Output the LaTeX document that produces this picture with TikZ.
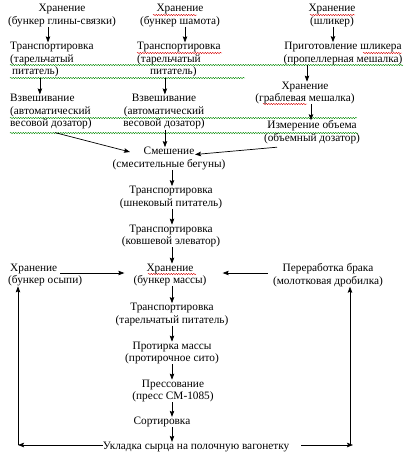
\documentclass[tikz,border=0pt]{standalone}
\usepackage{fontspec}
\setmainfont{Liberation Serif}
\usetikzlibrary{arrows.meta,calc,decorations.pathmorphing}
\begin{document}
\begin{tikzpicture}[x=1pt,y=1pt,
  lbl/.style={inner sep=0pt, align=center, font=\fontsize{11.3}{12.5}\selectfont},
  lbll/.style={lbl, align=left},
  arr/.style={-{Stealth[length=6pt,width=4.5pt,inset=1pt]}, line width=0.7pt},
  grn/.style={draw=green!55!black, line width=0.4pt, decorate, decoration={snake, amplitude=0.7pt, segment length=2.5pt}},
  rd/.style={grn, draw=red!85!black}]
\useasboundingbox (0,0) rectangle (407,-458);
\newcommand\vArrow[3]{\draw[arr] ([xshift=#3]#1.south) -- ([xshift=#3]#1.south |- #2.north);}
% spell-check marks
\draw[grn] (10,-65) -- (403,-65);
\draw[grn] (10,-78) -- (245,-78);
\draw[grn] (10,-118) -- (357,-118);
\draw[grn] (10,-133) -- (358,-133);
\draw[rd] (153,-15) -- (197,-15);
\draw[rd] (137,-53) -- (222,-53);
\draw[rd] (310,-15) -- (355,-15);
\draw[rd] (363,-53) -- (402,-53);
\draw[rd] (263,-104) -- (307,-104);
\draw[rd] (148,-274) -- (196,-274);
% nodes
\node[lbl] (A1) at (62,-15.5) {Хранение\\(бункер глины-связки)};
\node[lbll, anchor=west] (A2) at (10,-60) {Транспортировка\\(тарельчатый\\\hspace{2pt}питатель)};
\node[lbll, anchor=west] (A3) at (10,-112) {Взвешивание\\(автоматический\\весовой дозатор)};
\node[lbl] (B1) at (180,-15.5) {Хранение\\(бункер шамота)};
\node[lbll, anchor=west] (B2) at (137,-60) {Транспортировка\\(тарельчатый\\\hspace{13pt}питатель)};
\node[lbl] (B3) at (164,-112) {Взвешивание\\(автоматический\\весовой дозатор)};
\node[lbl] (C1) at (332,-15.5) {Хранение\\(шликер)};
\node[lbl] (C2) at (343,-53.5) {Приготовление шликера\\(пропеллерная мешалка)};
\node[lbl] (C3) at (305,-93) {Хранение\\(граблевая мешалка)};
\node[lbl] (C4) at (312,-132) {Измерение объема\\(объемный дозатор)};
\node[lbl] (M) at (169,-158.5) {Смешение\\(смесительные бегуны)};
\node[lbl] (T1) at (171,-197.5) {Транспортировка\\(шнековый питатель)};
\node[lbl] (T2) at (171,-236) {Транспортировка\\(ковшевой элеватор)};
\node[lbl] (S) at (170,-275) {Хранение\\(бункер массы)};
\node[lbll, anchor=west] (L) at (8,-275) {\hspace{2pt}Хранение\\(бункер осыпи)};
\node[lbl] (R) at (328,-275) {Переработка брака\\(молотковая дробилка)};
\node[lbl] (T3) at (172,-314.5) {Транспортировка\\(тарельчатый питатель)};
\node[lbl] (P) at (172,-353) {Протирка массы\\(протирочное сито)};
\node[lbl] (Pr) at (173,-391) {Прессование\\(пресс СМ-1085)};
\node[lbl] (So) at (162,-422) {Сортировка};
\node[lbl] (U) at (196,-447) {Укладка сырца на полочную вагонетку};
\coordinate (bl) at (18,-445);
\coordinate (br) at (353,-445);
\coordinate (brv) at (350,-445);
% connectors
\vArrow{A1}{A2}{-14pt}
\vArrow{A2}{A3}{-12pt}
\vArrow{B1}{B2}{5pt}
\vArrow{B2}{B3}{-14pt}
\vArrow{B3}{M}{1pt}
\vArrow{C1}{C2}{1pt}
\vArrow{C2}{C3}{-36pt}
\vArrow{C3}{C4}{6pt}
\vArrow{M}{T1}{3pt}
\vArrow{T1}{T2}{1pt}
\vArrow{T2}{S}{1pt}
\vArrow{S}{T3}{2pt}
\vArrow{T3}{P}{0pt}
\vArrow{P}{Pr}{0pt}
\vArrow{Pr}{So}{-1pt}
\vArrow{So}{U}{10pt}
\draw[arr] ($(A3.south)+(4,-3)$) -- ($(M.center)+(-39,6.5)$);
\draw[arr] ($(C4.south)+(-35,-3.5)$) -- ($(M.center)+(26,4)$);
\draw[arr] ($(L.west)+(52,2)$) -- ($(S.west)+(-9,2)$);
\draw[arr] ($(R.west)+(-5,2)$) -- ($(S.east)+(16,2)$);
\draw[arr] ($(U.west)+(0,2)$) -- (bl);
\draw[arr] (bl) -- (bl |- L.south);
\draw[arr] ($(U.east)+(12,2)$) -- (br);
\draw[arr] (brv) -- (brv |- R.south);
\end{tikzpicture}
\end{document}
